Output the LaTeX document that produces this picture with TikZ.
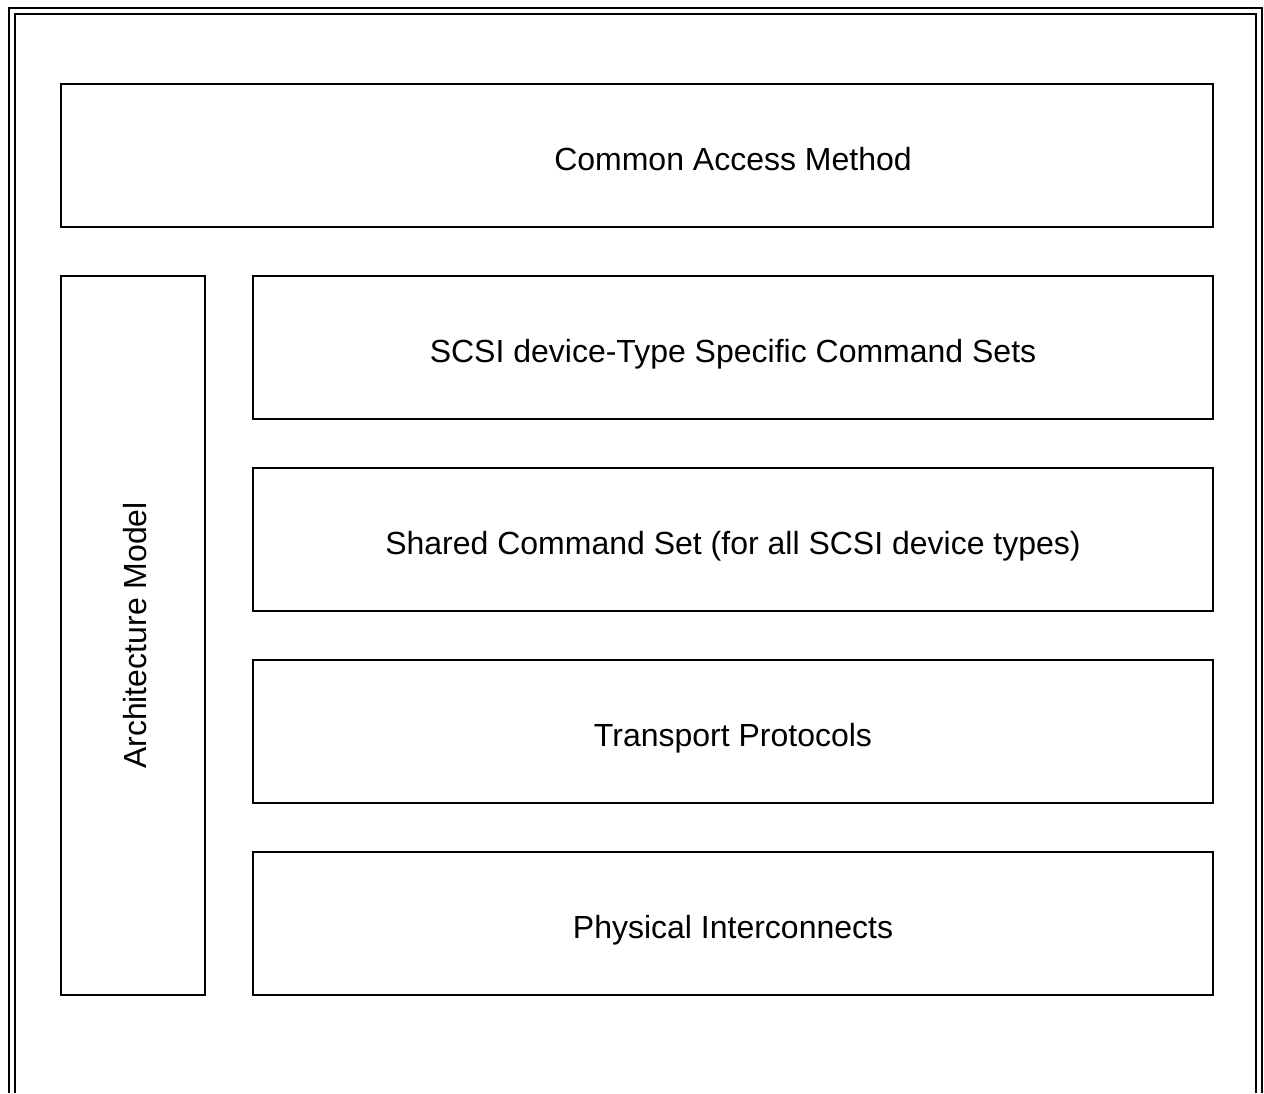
\documentclass[tikz,border=0pt]{standalone}
\usepackage{fontspec}
\setmainfont{Liberation Sans}
\usetikzlibrary{calc}
\begin{document}
\begin{tikzpicture}[x=1pt,y=-1pt,
  layer/.style={draw,line width=2pt,rectangle,inner sep=0pt,anchor=north west},
  lbl/.style={font=\fontsize{32}{38}\selectfont,inner sep=0pt,anchor=base},
  frame/.style={line width=2pt}]
\useasboundingbox (0,0) rectangle (1264,1093);
% double frame, open at the bottom
\draw[frame] (9,1093) -- (9,8) -- (1262,8) -- (1262,1093);
\draw[frame] (15,1093) -- (15,14) -- (1256,14) -- (1256,1093);
% layer boxes
\node[layer,minimum width=1152pt,minimum height=143pt] (cam) at (60,83) {};
\node[layer,minimum width=144pt,minimum height=719pt] (arch) at (60,275) {};
\node[layer,minimum width=960pt,minimum height=143pt] (cmdsets) at (252,275) {};
\node[layer,minimum width=960pt,minimum height=143pt] (shared) at (252,467) {};
\node[layer,minimum width=960pt,minimum height=143pt] (transport) at (252,659) {};
\node[layer,minimum width=960pt,minimum height=143pt] (phys) at (252,851) {};
% labels (baselines set a little below each box centre)
\node[lbl] (camtext) at ($(cmdsets.center |- cam.center)+(0,14.5)$) {Common Access Method};
\node[lbl,rotate=90] (archtext) at ($(arch.center)+(13,0)$) {Architecture Model};
\node[lbl] (cmdtext) at ($(cmdsets.center)+(0,15)$) {SCSI device-Type Specific Command Sets};
\node[lbl] (sharedtext) at ($(shared.center)+(0,15)$) {Shared Command Set (for all SCSI device types)};
\node[lbl] (transtext) at ($(transport.center)+(0,15)$) {Transport Protocols};
\node[lbl] (phystext) at ($(phys.center)+(0,15)$) {Physical Interconnects};
\end{tikzpicture}
\end{document}
